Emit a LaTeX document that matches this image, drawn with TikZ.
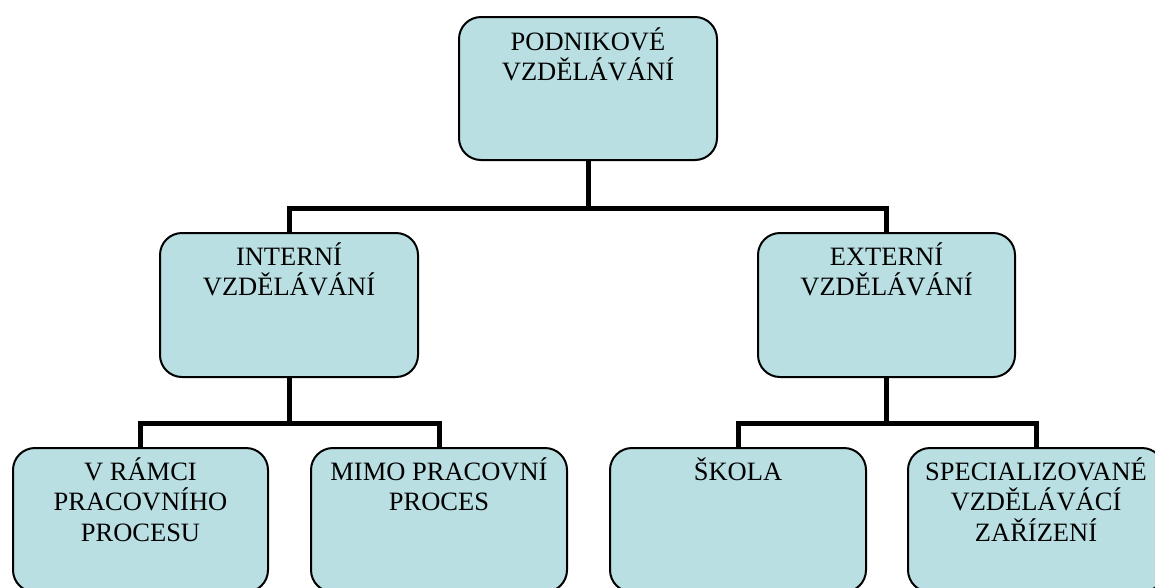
\documentclass[tikz,border=0pt]{standalone}
\usepackage{fontspec}
\setmainfont{Liberation Serif}
\usetikzlibrary{backgrounds}
\definecolor{boxfill}{RGB}{185,223,227}
\tikzset{
  orgbox/.style={draw=black, line width=2pt, rounded corners=22pt, fill=boxfill, inner sep=0pt},
  orgtext/.style={anchor=base, inner sep=0pt, font=\fontsize{26.5}{30.5}\selectfont},
  conn/.style={draw=black, line width=5pt}
}
\newcommand{\boxtxt}[1]{\parbox[t]{256pt}{\centering #1}}
\begin{document}
\begin{tikzpicture}[x=1pt,y=-1pt]
\useasboundingbox (0,0) rectangle (1155,587);
\clip (0,0) rectangle (1155,587);
% boxes
\node[orgbox, minimum width=258pt, minimum height=143pt] (top) at (588,88.5) {};
\node[orgbox, minimum width=258pt, minimum height=144pt] (int) at (289,305) {};
\node[orgbox, minimum width=257pt, minimum height=144pt] (ext) at (886.5,305) {};
\node[orgbox, minimum width=255pt, minimum height=144pt] (vr) at (140.5,520) {};
\node[orgbox, minimum width=256pt, minimum height=144pt] (mimo) at (439,520) {};
\node[orgbox, minimum width=256pt, minimum height=144pt] (skola) at (738,520) {};
\node[orgbox, minimum width=256pt, minimum height=144pt] (spec) at (1036,520) {};
% texts
\node[orgtext] (topT) at ([yshift=-34pt]top.north) {\boxtxt{PODNIKOVÉ\\VZDĚLÁVÁNÍ}};
\node[orgtext] (intT) at ([yshift=-33pt]int.north) {\boxtxt{INTERNÍ\\VZDĚLÁVÁNÍ}};
\node[orgtext] (extT) at ([yshift=-33pt]ext.north) {\boxtxt{EXTERNÍ\\VZDĚLÁVÁNÍ}};
\node[orgtext] (vrT) at ([yshift=-33pt]vr.north) {\boxtxt{V RÁMCI\\PRACOVNÍHO\\PROCESU}};
\node[orgtext] (mimoT) at ([yshift=-33pt]mimo.north) {\boxtxt{MIMO PRACOVNÍ\\PROCES}};
\node[orgtext] (skolaT) at ([yshift=-33pt]skola.north) {\boxtxt{ŠKOLA}};
\node[orgtext] (specT) at ([yshift=-33pt]spec.north) {\boxtxt{SPECIALIZOVANÉ\\VZDĚLÁVÁCÍ\\ZAŘÍZENÍ}};
% junctions
\coordinate (j1) at (588,208);
\coordinate (j2) at (289,423);
\coordinate (j3) at (886.5,423);
\begin{scope}[on background layer]
\draw[conn] (top.south) -- (j1);
\draw[conn] (int.north) |- (j1) -| (ext.north);
\draw[conn] (int.south) -- (j2);
\draw[conn] (vr.north) |- (j2) -| (mimo.north);
\draw[conn] (ext.south) -- (j3);
\draw[conn] (skola.north) |- (j3) -| (spec.north);
\end{scope}
\end{tikzpicture}
\end{document}
